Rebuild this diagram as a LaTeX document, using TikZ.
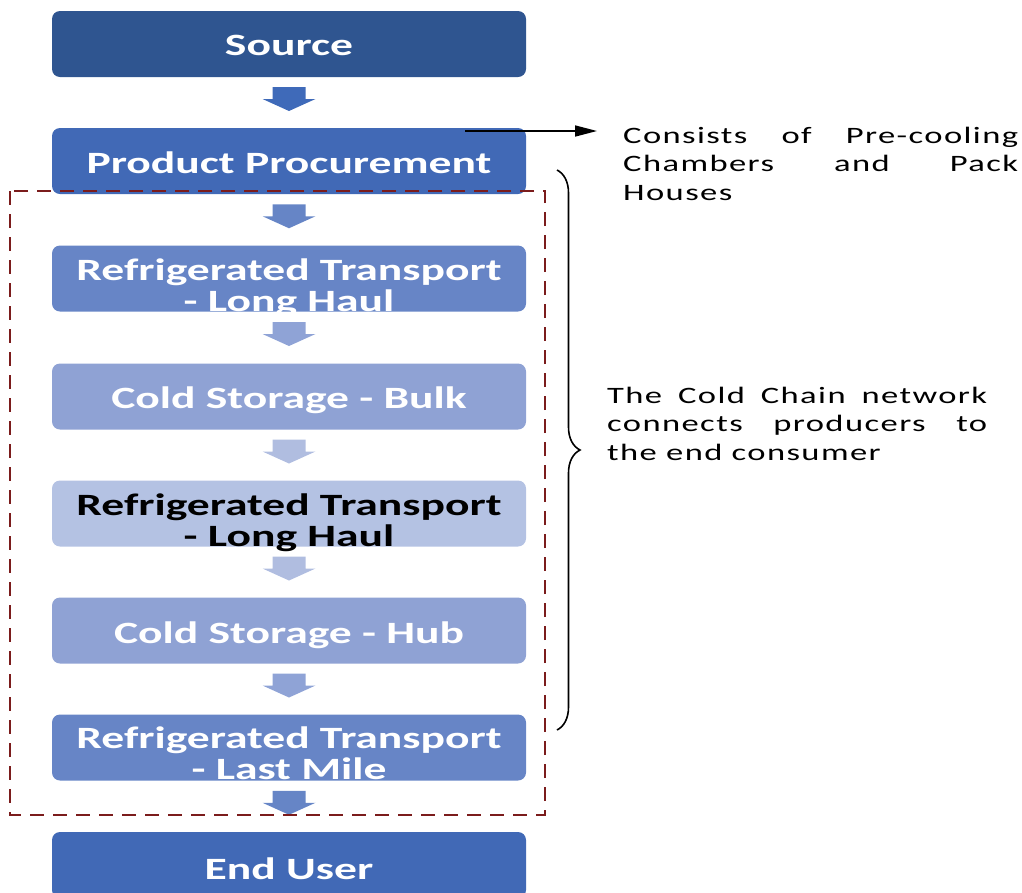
\documentclass[tikz,border=0pt]{standalone}
\usepackage{fontspec}
\setmainfont{Carlito}
\newfontfamily\widefont{Carlito}[FakeStretch=1.47]
\newfontfamily\notefont{Carlito}[FakeStretch=1.47,LetterSpace=6]
\usetikzlibrary{decorations.pathreplacing,arrows.meta,calc}

\definecolor{stageA}{HTML}{2F5590}
\definecolor{stageB}{HTML}{4169B6}
\definecolor{stageC}{HTML}{6785C6}
\definecolor{stageD}{HTML}{8FA2D4}
\definecolor{stageE}{HTML}{B4C2E3}
\definecolor{arrowA}{HTML}{3F6AB9}
\definecolor{arrowC}{HTML}{6685C6}
\definecolor{arrowD}{HTML}{8FA3D6}
\definecolor{arrowE}{HTML}{B0BDE0}
\definecolor{framered}{HTML}{7B1C1C}

\begin{document}
\begin{tikzpicture}[x=1pt,y=-1pt,
  stage/.style={rounded corners=8pt, minimum width=474pt, minimum height=66pt,
                inner sep=0pt, draw=none},
  stagetext/.style={anchor=base, inner sep=0pt, text=white,
                font=\widefont\bfseries\fontsize{31}{33}\selectfont},
  notetext/.style={anchor=base west, inner sep=0pt, align=justify,
                font=\notefont\fontsize{23.5}{28.5}\selectfont},
  flowarrow/.pic={\path[pic actions] (-16.5,-12) -- (16.5,-12) -- (16.5,0)
                  -- (26.5,0) -- (0,12) -- (-26.5,0) -- (-16.5,0) -- cycle;}
]
\useasboundingbox (0,0) rectangle (1022,892);

% stages of the chain
\node[stage, fill=stageA] (src)  at (289,44)    {};
\node[stage, fill=stageB] (pp)   at (289,161)   {};
\node[stage, fill=stageC] (rt1)  at (289,278.5) {};
\node[stage, fill=stageD] (csb)  at (289,396.5) {};
\node[stage, fill=stageE] (rt2)  at (289,513.5) {};
\node[stage, fill=stageD] (csh)  at (289,630.5) {};
\node[stage, fill=stageC] (rt3)  at (289,747.5) {};
\node[stage, fill=stageB] (end)  at (289,865)   {};

% stage labels
\node[stagetext] (src-t) at (289,55) {Source};
\node[stagetext] (pp-t)  at (289,173) {Product Procurement};
\node[stagetext] (rt1-a) at (289,280) {Refrigerated Transport};
\node[stagetext] (rt1-b) at (289,311) {- Long Haul};
\node[stagetext] (csb-t) at (289,408) {Cold Storage - Bulk};
\node[stagetext, text=black] (rt2-a) at (289,515) {Refrigerated Transport};
\node[stagetext, text=black] (rt2-b) at (289,546) {- Long Haul};
\node[stagetext] (csh-t) at (289,643) {Cold Storage - Hub};
\node[stagetext] (rt3-a) at (289,748) {Refrigerated Transport};
\node[stagetext] (rt3-b) at (289,779) {- Last Mile};
\node[stagetext] (end-t) at (289,879) {End User};

% block arrows between stages
\pic[fill=arrowA] at ($(src.south)!0.5!(pp.north)+(0,-3.5)$)  {flowarrow};
\pic[fill=arrowC] at ($(pp.south)!0.5!(rt1.north)+(0,-3.5)$)  {flowarrow};
\pic[fill=arrowD] at ($(rt1.south)!0.5!(csb.north)+(0,-3.5)$) {flowarrow};
\pic[fill=arrowE] at ($(csb.south)!0.5!(rt2.north)+(0,-3.5)$) {flowarrow};
\pic[fill=arrowE] at ($(rt2.south)!0.5!(csh.north)+(0,-3.5)$) {flowarrow};
\pic[fill=arrowD] at ($(csh.south)!0.5!(rt3.north)+(0,-3.5)$) {flowarrow};
\pic[fill=arrowC] at ($(rt3.south)!0.5!(end.north)+(0,-3.5)$) {flowarrow};

% cold chain frame
\draw[framered, line width=1.8pt, dash pattern=on 14pt off 9pt]
  (10,191) rectangle (545,815);

% note on procurement
\node[notetext, text width=395pt] (note1) at (623,143)
  {Consists of Pre-cooling Chambers and Pack Houses};
\coordinate (pp-hook) at (465,131);
\coordinate (note1-in) at (597,131);
\draw[line width=1.6pt, -{Triangle[length=22pt,width=11pt]}] (pp-hook) -- (note1-in);

% brace and network note
\coordinate (brace-top) at (557,170);
\coordinate (brace-bot) at (557,730);
\draw[line width=1.6pt, decorate, decoration={brace, amplitude=23pt}]
  (brace-top) -- (brace-bot);
\node[notetext, text width=380pt] (note2) at (607,403)
  {The Cold Chain network connects producers to the end consumer};
\end{tikzpicture}
\end{document}
